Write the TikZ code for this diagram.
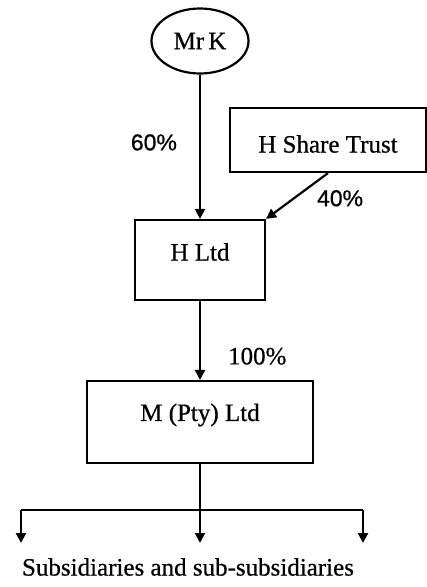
\documentclass[tikz,border=0pt]{standalone}
\usepackage{fontspec}
\setmainfont{Liberation Serif}
\newfontfamily\serifh[FakeBold=0.6]{Liberation Serif}
\newfontfamily\sansf[FakeBold=0.6]{Liberation Sans}
\usetikzlibrary{shapes.geometric,arrows.meta}
\begin{document}
\begin{tikzpicture}[x=1pt,y=-1pt,
  line width=2.2pt,
  txt/.style={font=\serifh\fontsize{25}{28}\selectfont, inner sep=0pt},
  pct/.style={font=\sansf\fontsize{23}{26}\selectfont, inner sep=0pt},
  box/.style={draw, rectangle, inner sep=0pt},
  arr/.style={-{Triangle[length=10pt,width=10pt]}}
]
\useasboundingbox (0,0) rectangle (427,587);
\node[draw, ellipse, minimum width=97pt, minimum height=65pt, inner sep=0pt, txt] (mrk) at (200,41) {Mr\,K};
\node[box, minimum width=196pt, minimum height=64pt,
      label={[txt, yshift=-4pt]center:H Share Trust}] (trust) at (328,140) {};
\node[box, minimum width=130pt, minimum height=80pt,
      label={[txt, yshift=8pt]center:H Ltd}] (hltd) at (200,260) {};
\node[box, minimum width=226pt, minimum height=82pt,
      label={[txt, yshift=7pt]center:M (Pty) Ltd}] (m) at (200,422) {};
\coordinate (bus) at (200,510);
\coordinate (busl) at (21,510);
\coordinate (busr) at (363,510);
\coordinate (el) at (21,543);
\coordinate (ec) at (200,543);
\coordinate (er) at (363,543);
\node[txt] (subs) at (188,567) {Subsidiaries and sub-subsidiaries};
\draw[arr] (mrk.south) -- (hltd.north) node[pct, pos=0.47, left=22pt] (l60) {60\%};
\draw[arr] (trust.south) -- (hltd.north east) node[pct, pos=0.55, right=22pt] (l40) {40\%};
\draw[arr] (hltd.south) -- (m.north) node[txt, pos=0.7, right=27pt] (l100) {100\%};
\draw (m.south) -- (bus);
\draw (busl) -- (busr);
\draw[arr] (busl) -- (el);
\draw[arr] (bus) -- (ec);
\draw[arr] (busr) -- (er);
\end{tikzpicture}
\end{document}
